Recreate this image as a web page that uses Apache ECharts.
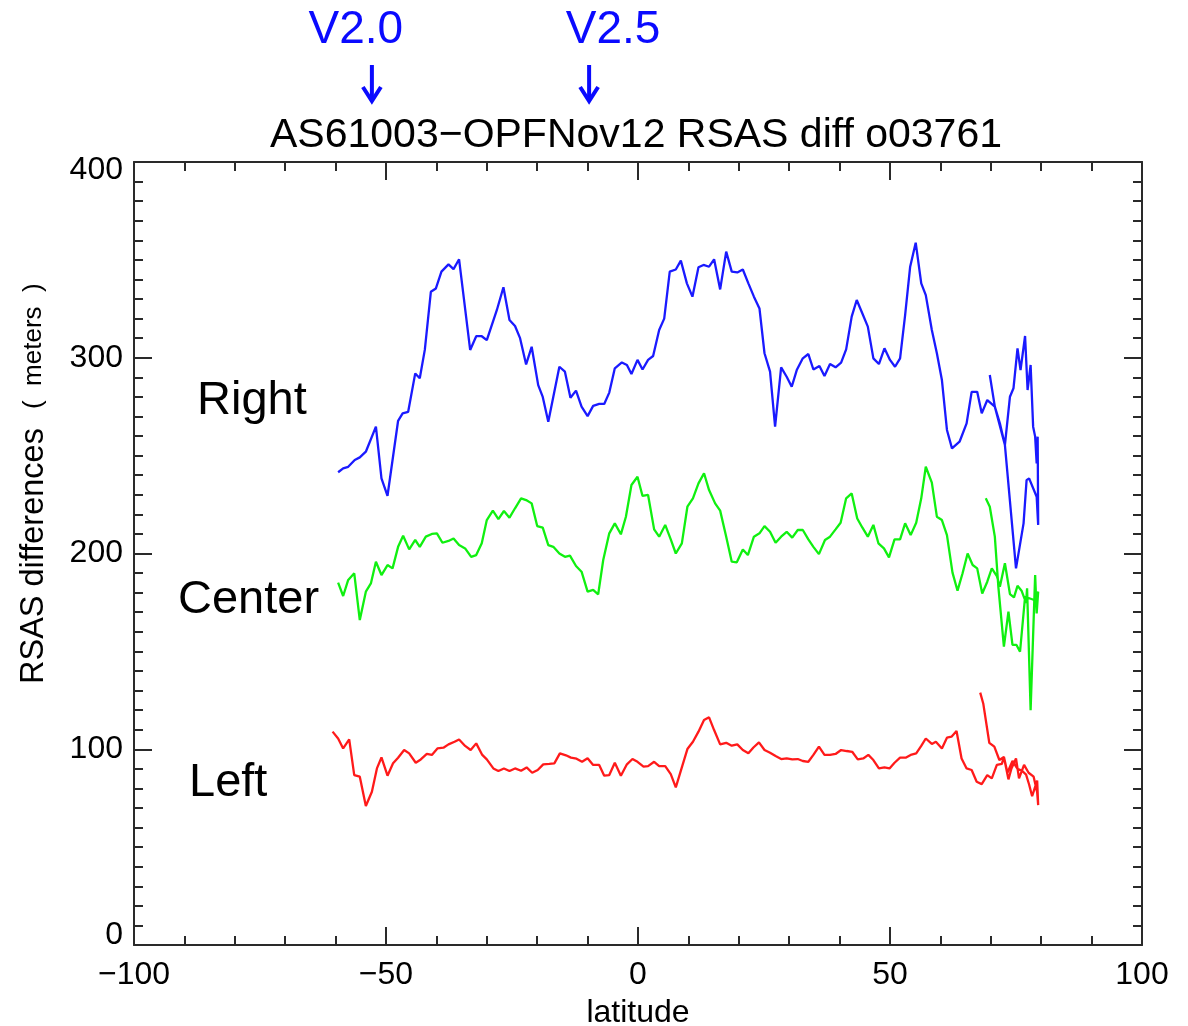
<!DOCTYPE html>
<html>
<head>
<meta charset="utf-8">
<script src="https://cdn.jsdelivr.net/npm/echarts@6/dist/echarts.min.js"></script>
<style>
  html, body { margin: 0; padding: 0; background: #ffffff; }
  #chart { width: 1188px; height: 1026px; }
</style>
</head>
<body>
<div id="chart"></div>
<script>
// Along-track RSAS differences (meters) for the three footprints, by latitude.
// Each track runs north to the turning latitude and then back south a few degrees.
const rightLat = [-59.5,-58.5,-57.5,-56.2,-55.2,-54.0,-52.0,-50.9,-49.7,-47.6,-46.7,-45.6,-44.2,-43.3,-42.3,-41.1,-40.1,-39.0,-37.6,-36.6,-35.5,-33.3,-32.1,-31.0,-30.0,-28.0,-26.7,-25.5,-24.4,-23.4,-22.2,-21.1,-19.8,-18.9,-17.8,-15.6,-14.5,-13.4,-12.3,-11.2,-10.0,-8.9,-7.7,-6.7,-5.7,-4.6,-3.2,-2.2,-1.3,-0.1,0.9,2.0,3.0,4.2,5.2,6.3,7.5,8.5,9.7,10.8,12.0,13.0,14.1,15.1,16.3,17.5,18.6,19.7,20.8,21.9,23.0,24.1,25.1,26.2,27.2,28.4,29.5,30.5,31.5,32.7,33.8,34.8,36.0,37.0,38.1,39.2,40.3,41.3,42.4,43.4,44.5,45.6,46.7,47.8,48.9,50.0,51.0,52.0,53.0,54.0,55.1,56.2,57.1,58.3,59.3,60.3,61.3,62.3,63.8,65.2,66.2,67.3,68.2,69.3,70.8,72.8,73.8,74.5,75.3,75.9,76.8,77.3,77.9,78.4,78.8,79.1,79.3,79.4,79.1,77.6,77.1,76.5,75.0,72.8,71.8,70.8,69.8];
const rightVal = [241.5,243.5,244.3,247.8,249.1,252.0,264.8,238.4,229.5,267.8,271.6,272.4,292.0,289.5,304.0,333.7,335.4,344.0,347.7,345.3,350.3,304.0,311.0,311.0,309.0,324.4,336.0,319.3,316.2,310.0,296.6,305.6,286.0,280.0,267.3,295.4,292.9,279.6,283.2,275.0,270.2,275.4,276.4,276.4,282.2,294.6,297.6,296.3,291.7,298.9,294.0,298.9,300.9,314.2,320.0,344.0,345.1,349.6,338.0,331.2,346.2,347.4,346.5,350.3,334.9,354.2,344.0,343.6,345.1,338.0,331.2,325.2,302.3,292.9,264.8,295.1,290.3,285.2,293.7,299.7,301.9,294.0,295.8,290.7,296.8,295.1,297.5,304.3,321.0,329.5,322.7,315.9,299.7,296.8,304.8,298.9,295.4,299.7,321.8,346.5,358.8,338.0,332.0,314.2,302.3,288.6,263.1,253.7,257.1,266.5,282.6,282.6,271.6,278.4,275.0,255.4,280.1,284.4,304.8,293.7,311.1,283.5,296.3,264.8,259.7,246.0,259.7,214.6,229.0,238.4,237.5,215.4,192.4,255.4,266.5,275.0,291.2];

const centerLat = [-59.5,-58.5,-57.5,-56.3,-55.2,-54.0,-53.0,-52.0,-50.9,-49.7,-48.7,-47.6,-46.6,-45.4,-44.2,-43.3,-42.1,-40.9,-39.9,-38.8,-37.6,-36.6,-35.5,-34.3,-33.1,-32.1,-31.0,-30.0,-28.8,-27.7,-26.6,-25.5,-24.4,-23.2,-22.2,-21.1,-20.0,-18.9,-17.8,-16.8,-15.6,-14.5,-13.5,-12.3,-11.2,-10.0,-8.9,-7.9,-6.9,-5.7,-4.6,-3.4,-2.4,-1.3,-0.1,0.9,2.0,3.2,4.2,5.4,6.5,7.5,8.7,9.8,10.9,12.0,13.1,14.1,15.3,16.3,17.5,18.6,19.6,20.8,21.8,23.0,24.1,25.1,26.2,27.3,28.4,29.5,30.6,31.7,32.7,33.8,34.8,35.9,37.1,38.1,39.2,40.2,41.3,42.4,43.5,44.5,45.6,46.7,47.7,48.8,49.8,50.9,52.0,53.0,54.1,55.2,56.2,57.1,58.3,59.3,60.3,61.3,62.4,63.4,64.4,65.4,66.4,67.3,68.3,69.3,70.2,71.2,71.8,72.8,73.8,74.6,75.3,76.1,77.0,77.2,77.9,78.8,79.1,79.4,78.9,76.8,75.8,75.1,74.3,73.5,72.6,71.5,70.8,69.8,69.0];
const centerVal = [185.1,178.3,186.5,189.9,166.0,180.5,184.7,195.8,189.0,194.1,192.4,203.4,209.1,202.1,206.9,203.4,208.6,210.0,210.3,205.5,206.4,207.7,204.3,202.6,198.3,199.2,205.2,217.1,221.9,217.6,221.7,218.3,223.1,228.2,227.3,225.6,214.0,213.2,204.3,203.4,200.0,198.3,198.9,193.6,190.7,180.5,181.4,179.1,196.7,210.3,215.4,209.8,218.8,235.0,239.2,229.4,229.9,212.3,208.6,214.6,207.2,200.0,205.2,223.9,228.2,235.8,241.0,232.4,225.6,221.9,208.6,195.8,195.5,202.1,199.2,208.6,210.3,214.0,211.1,205.5,208.6,211.1,208.1,212.0,212.0,207.2,203.4,199.7,206.9,208.6,212.3,215.7,228.2,230.7,217.9,213.3,208.6,214.6,205.2,202.6,198.0,207.2,207.2,215.4,209.4,215.7,228.2,244.3,236.2,218.8,217.1,209.4,190.2,181.0,189.9,200.0,194.1,192.4,179.6,185.6,192.4,188.5,183.0,195.0,179.3,177.6,183.5,181.0,174.8,182.2,120.0,189.0,169.4,180.5,176.0,177.9,149.8,153.3,153.3,170.3,152.4,183.0,208.6,223.9,228.2];

const leftLat = [-60.6,-59.5,-58.5,-57.3,-56.3,-55.2,-54.0,-52.8,-51.8,-50.9,-49.7,-48.6,-47.6,-46.4,-45.4,-44.1,-43.1,-41.9,-40.9,-39.8,-38.6,-37.6,-36.4,-35.5,-34.3,-33.2,-32.1,-30.9,-30.0,-28.7,-27.7,-26.6,-25.5,-24.4,-23.2,-22.1,-21.0,-19.9,-18.8,-17.6,-16.6,-15.5,-14.3,-13.3,-12.2,-11.1,-10.0,-8.9,-7.7,-6.7,-5.7,-4.6,-3.4,-2.2,-1.1,-0.1,1.1,2.0,3.2,4.2,5.4,6.5,7.5,8.7,9.8,10.9,12.0,13.1,14.1,15.1,16.3,17.5,18.6,19.7,20.8,21.9,22.9,24.0,25.1,26.2,27.3,28.4,29.5,30.6,31.7,32.7,33.8,34.8,35.9,37.0,38.1,39.2,40.3,41.4,42.5,43.6,44.7,45.7,46.7,47.8,48.9,49.9,50.9,52.0,53.1,54.1,55.2,56.2,57.1,58.3,59.1,60.3,61.3,62.2,63.2,64.2,65.2,66.2,67.2,68.2,69.3,70.2,71.2,72.2,72.6,73.3,74.3,75.3,76.2,77.0,77.6,78.2,78.7,79.2,79.4,79.2,78.5,77.5,76.6,75.6,75.0,74.1,73.5,72.6,71.7,70.7,69.7,68.5,67.9];
const leftVal = [109.0,105.5,100.4,105.0,86.8,86.0,71.0,78.3,90.2,95.8,86.5,92.8,95.7,99.6,97.9,93.1,94.8,97.6,97.1,100.4,100.8,102.5,103.8,105.0,101.7,99.6,103.0,97.1,94.8,90.2,88.9,90.2,88.9,90.2,89.0,90.7,88.0,89.4,92.3,92.5,92.8,97.9,96.9,95.7,95.2,93.6,95.4,92.0,92.0,86.5,86.8,93.1,86.5,92.3,95.0,93.6,91.1,91.4,93.6,91.4,91.4,87.3,80.5,90.7,100.1,103.8,109.0,114.9,116.3,109.8,102.5,103.3,101.8,102.5,99.6,97.9,100.9,103.5,99.6,98.2,96.5,95.0,95.3,94.8,95.0,94.0,93.6,97.1,101.4,97.1,97.1,97.6,99.6,99.1,98.7,94.8,95.3,97.1,94.5,90.2,90.7,90.2,93.1,95.7,95.7,97.1,97.9,101.7,105.5,102.7,103.8,100.4,105.9,106.4,109.3,95.3,90.2,89.4,83.4,82.2,86.8,85.1,92.0,92.5,96.2,88.0,94.0,90.0,89.0,87.0,82.0,76.0,80.0,84.0,71.5,78.0,86.0,88.0,92.0,85.1,95.3,90.2,84.6,96.0,94.5,101.3,103.3,123.4,128.9];

// Axis ticks and annotation text
const xTicks = { min: -100, max: 100, step: 50 };
const yTicks = { min: 0, max: 400, step: 100 };
const titleText = 'AS61003\u2212OPFNov12 RSAS diff o03761';
const yTitle = 'RSAS differences';
const yUnit = '(  meters  )';
const trackLabels = ['Right', 'Center', 'Left'];
const versionLabels = ['V2.0', 'V2.5'];
const versionLat = [-52.8, -9.7];

function pairs(lat, val) { return lat.map((x, i) => [x, val[i]]); }

const FONT = '"Liberation Sans", Arial, Helvetica, sans-serif';
const INK = '#2a2a2a';

function boxAxis(range, minorSplit, extra) {
  return Object.assign({
    type: 'value', min: range.min, max: range.max, interval: range.step,
    axisLine: { show: true, onZero: false, lineStyle: { color: INK, width: 2 } },
    axisTick: { show: true, inside: true, length: 18, lineStyle: { color: INK, width: 2 } },
    minorTick: { show: true, splitNumber: minorSplit, length: 9, lineStyle: { color: INK, width: 2 } },
    splitLine: { show: false },
    minorSplitLine: { show: false }
  }, extra);
}
const numStyle = { fontFamily: FONT, fontSize: 32, color: '#000' };

const chart = echarts.init(document.getElementById('chart'));

const option = {
  animation: false,
  backgroundColor: '#ffffff',
  title: {
    text: titleText, left: 631, top: 110, textAlign: 'center',
    textStyle: { fontFamily: FONT, fontSize: 41, fontWeight: 'normal', color: '#000' }
  },
  grid: { left: 134, right: 46, top: 162, bottom: 81, containLabel: false, outerBoundsMode: 'none' },
  xAxis: [
    boxAxis(xTicks, 5, {
      position: 'bottom',
      axisLabel: Object.assign({ margin: 14, formatter: v => String(v).replace('-', '\u2212') }, numStyle),
      name: 'latitude', nameLocation: 'middle', nameGap: 52,
      nameTextStyle: { fontFamily: FONT, fontSize: 32, color: '#000' }
    }),
    boxAxis(xTicks, 5, { position: 'top', axisLabel: { show: false } })
  ],
  yAxis: [
    boxAxis(yTicks, 10, {
      position: 'left',
      axisLabel: Object.assign({
        margin: 11,
        // end labels sit just inside the frame
        formatter: v => v === yTicks.max ? '{hi|' + v + '}' : (v === yTicks.min ? '{lo|' + v + '}' : '{n|' + v + '}'),
        rich: {
          n: numStyle,
          hi: Object.assign({ padding: [16, 0, 0, 0] }, numStyle),
          lo: Object.assign({ padding: [0, 0, 20, 0] }, numStyle)
        }
      }, numStyle)
    }),
    boxAxis(yTicks, 10, { position: 'right', axisLabel: { show: false } })
  ],
  series: [
    { name: 'Right', type: 'line', data: pairs(rightLat, rightVal), showSymbol: false,
      lineStyle: { color: '#1a1aff', width: 2.3 }, itemStyle: { color: '#1a1aff' } },
    { name: 'Center', type: 'line', data: pairs(centerLat, centerVal), showSymbol: false,
      lineStyle: { color: '#10f010', width: 2.3 }, itemStyle: { color: '#10f010' } },
    { name: 'Left', type: 'line', data: pairs(leftLat, leftVal), showSymbol: false,
      lineStyle: { color: '#ff1a1a', width: 2.3 }, itemStyle: { color: '#ff1a1a' } }
  ]
};
chart.setOption(option);

// Annotations: track names, y-axis title, processing-version markers
const graphics = [];
const trackPos = [[197, 401], [178, 600], [189, 783]];
trackLabels.forEach((t, i) => {
  graphics.push({ type: 'text', x: trackPos[i][0], y: trackPos[i][1], silent: true,
    style: { text: t, fontFamily: FONT, fontSize: 47, fill: '#000', textAlign: 'left', textVerticalAlign: 'middle' } });
});
graphics.push({ type: 'text', x: 34, y: 684, rotation: Math.PI / 2, silent: true,
  style: { text: yTitle, fontFamily: FONT, fontSize: 32.5, fill: '#000', textAlign: 'left', textVerticalAlign: 'middle' } });
graphics.push({ type: 'text', x: 34, y: 409, rotation: Math.PI / 2, silent: true,
  style: { text: yUnit, fontFamily: FONT, fontSize: 26, fill: '#000', textAlign: 'left', textVerticalAlign: 'middle' } });
const textOffset = [-16, 24];
versionLat.forEach((lat, i) => {
  const x = chart.convertToPixel({ xAxisIndex: 0 }, lat);
  graphics.push({ type: 'text', x: x + textOffset[i], y: 30, silent: true,
    style: { text: versionLabels[i], fontFamily: FONT, fontSize: 46, fill: '#0a0aff', textAlign: 'center', textVerticalAlign: 'middle' } });
  graphics.push({ type: 'line', silent: true, shape: { x1: x, y1: 65, x2: x, y2: 100 },
    style: { stroke: '#0a0aff', lineWidth: 4 } });
  graphics.push({ type: 'polyline', silent: true, shape: { points: [[x - 9, 87], [x, 101], [x + 9, 87]] },
    style: { stroke: '#0a0aff', lineWidth: 4, fill: null } });
});
chart.setOption({ graphic: graphics });
</script>
</body>
</html>
